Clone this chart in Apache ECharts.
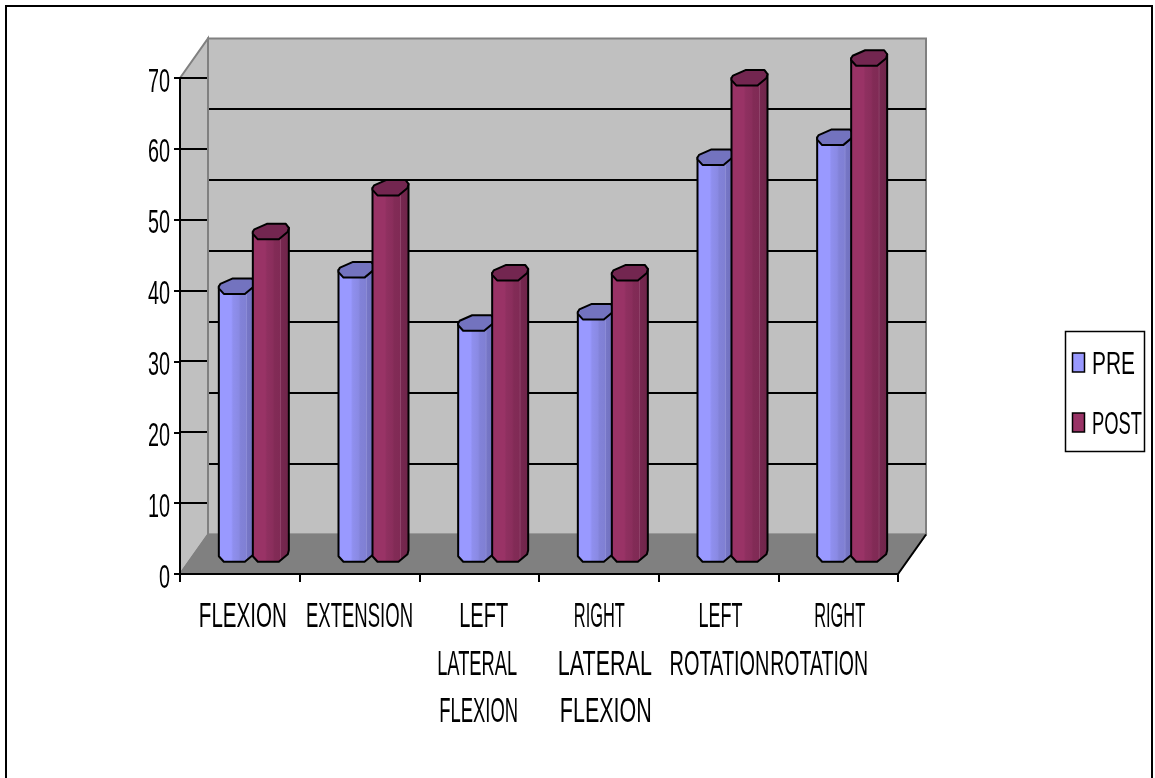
<!DOCTYPE html>
<html>
<head>
<meta charset="utf-8">
<style>html,body{margin:0;padding:0;background:#fff}#chart{width:1155px;height:778px}</style>
<script src="https://cdn.jsdelivr.net/npm/echarts@6/dist/echarts.min.js"></script>
</head>
<body>
<div id="chart"></div>
<script>
// Range of motion before and after treatment
const categories = ['FLEXION', 'EXTENSION', 'LEFT\nLATERAL\nFLEXION', 'RIGHT\nLATERAL\nFLEXION', 'LEFT\nROTATION', 'RIGHT\nROTATION'];
const preValues = [37.8, 40.1, 32.6, 34.2, 56, 58.8];
const postValues = [45.5, 51.7, 39.7, 39.7, 67.2, 70];
const yTicks = [0, 10, 20, 30, 40, 50, 60, 70];
const seriesNames = ['PRE', 'POST'];

// Oblique projection of the 3D box: how far the back wall sits from the front plane
const DEPTH_X = 28;
const DEPTH_Y = 39.5;
const CLUSTER_SHIFT = 17;
const LABEL_FONT = '35px "Liberation Sans", Arial, sans-serif';
const TICK_FONT = '33px "Liberation Sans", Arial, sans-serif';
const LEGEND_FONT = '32px "Liberation Sans", Arial, sans-serif';
const PRE_COLOR = '#9999ff';
const POST_COLOR = '#993366';

// Per-line label placement under each category: [shift from band centre, drawn width]
const LABEL_LAYOUT = [
  [[3, 88]],
  [[0, 107]],
  [[4.5, 49], [-2, 80], [-0.5, 79]],
  [[0.5, 51], [6, 94], [7, 92]],
  [[2, 44], [1, 100]],
  [[1.5, 51], [-19, 98]]
];
const LEGEND_LAYOUT = [{swatchY: 353, textY: 365, width: 43}, {swatchY: 413, textY: 425, width: 50}];

// Low-poly cylinder outline, as offsets from the centre of the end cap
const CAP = [[-18, 0], [-16.5, -2.5], [-4, -8], [15, -8], [18, -4], [17, 0], [8, 7.5], [-13, 7.5], [-18, 2]];

const ruler = document.createElement('canvas').getContext('2d');
function squeeze(text, font, width) {
  ruler.font = font;
  return width / ruler.measureText(text).width;
}

function facetFill(stops) {
  return new echarts.graphic.LinearGradient(0, 0, 1, 0, stops.map(s => ({offset: s[0], color: s[1]})));
}
const PRE_BODY = facetFill([[0, '#9999ff'], [0.35, '#9999ff'], [0.4, '#8f8fee'], [0.55, '#8a8ae4'], [0.6, '#8282d8'], [0.74, '#8080d4'], [0.76, '#9090d8'], [0.78, '#7676c6'], [1, '#7070bc']]);
const POST_BODY = facetFill([[0, '#993366'], [0.35, '#993366'], [0.4, '#8f3060'], [0.55, '#8a2e5c'], [0.6, '#822b56'], [0.74, '#802a55'], [0.76, '#944a70'], [0.78, '#76274f'], [1, '#6e2549']]);

function barRenderer(shift, bodyFill, capFill) {
  return function (params, api) {
    const top = api.coord([api.value(0), api.value(1)]);
    const base = api.coord([api.value(0), 0]);
    const cx = top[0] + DEPTH_X / 2 + shift;
    const topY = top[1] - DEPTH_Y / 2;
    const baseY = base[1] - DEPTH_Y / 2;
    const at = (p, y) => [cx + p[0], y + p[1]];
    const body = [at(CAP[0], topY), at(CAP[4], topY)]
      .concat(CAP.slice(4).map(p => at(p, baseY)))
      .concat([at(CAP[0], baseY)]);
    const line = {stroke: '#000', lineWidth: 2, lineJoin: 'round'};
    return {
      type: 'group',
      children: [
        {type: 'polygon', shape: {points: body}, style: Object.assign({fill: bodyFill}, line)},
        {type: 'polygon', shape: {points: CAP.map(p => at(p, topY))}, style: Object.assign({fill: capFill}, line)}
      ]
    };
  };
}

// Walls, floor and the gridlines printed on them
function boxRenderer(params, api) {
  const g = params.coordSys;
  const left = g.x, right = g.x + g.width, topY = g.y, bottom = g.y + g.height;
  const wall = {fill: '#c0c0c0', stroke: '#808080', lineWidth: 2};
  const grid = {stroke: '#000', lineWidth: 2};
  const children = [
    {type: 'polygon', shape: {points: [[left, topY], [left + DEPTH_X, topY - DEPTH_Y], [left + DEPTH_X, bottom - DEPTH_Y], [left, bottom]]}, style: wall},
    {type: 'polygon', shape: {points: [[left + DEPTH_X, topY - DEPTH_Y], [right + DEPTH_X, topY - DEPTH_Y], [right + DEPTH_X, bottom - DEPTH_Y], [left + DEPTH_X, bottom - DEPTH_Y]]}, style: wall},
    {type: 'polygon', shape: {points: [[left, bottom], [left + DEPTH_X, bottom - DEPTH_Y], [right + DEPTH_X, bottom - DEPTH_Y], [right, bottom]]}, style: {fill: '#808080', stroke: '#808080', lineWidth: 1.5}},
    {type: 'line', shape: {x1: right, y1: bottom, x2: right + DEPTH_X, y2: bottom - DEPTH_Y}, style: {stroke: '#000', lineWidth: 2}}
  ];
  yTicks.forEach(t => {
    const exactY = api.coord([0, t])[1];
    const y = Math.round(exactY);
    children.push({type: 'line', shape: {x1: left, y1: y, x2: left + DEPTH_X - 1, y2: y}, style: grid});
    if (t > 0 && t < yTicks[yTicks.length - 1]) {
      const backY = Math.round(exactY - DEPTH_Y);
      children.push({type: 'line', shape: {x1: left + DEPTH_X + 1, y1: backY, x2: right + DEPTH_X, y2: backY}, style: grid});
    }
  });
  return {type: 'group', children};
}

// Condensed axis text: tall letters squeezed horizontally
function categoryLabelRenderer(params, api) {
  const idx = api.value(0);
  const x = api.coord([idx, 0])[0];
  const lines = categories[idx].split('\n');
  return {
    type: 'group',
    children: lines.map((text, i) => ({
      type: 'text',
      x: x + LABEL_LAYOUT[idx][i][0],
      y: 617.5 + i * 47.5,
      scaleX: squeeze(text, LABEL_FONT, LABEL_LAYOUT[idx][i][1]),
      style: {text, font: LABEL_FONT, fill: '#000', textAlign: 'center', textVerticalAlign: 'middle'}
    }))
  };
}
function valueLabelRenderer(params, api) {
  const p = api.coord([0, api.value(0)]);
  return {
    type: 'text',
    x: params.coordSys.x - 10,
    y: p[1] + 4.5,
    scaleX: 0.6,
    style: {text: String(api.value(0)), font: TICK_FONT, fill: '#000', textAlign: 'right', textVerticalAlign: 'middle'}
  };
}

// Legend box with squeezed captions
const legendElements = [
  {type: 'rect', shape: {x: 1065.5, y: 331.5, width: 79, height: 120}, style: {fill: '#fff', stroke: '#000', lineWidth: 1.5}, silent: true}
];
seriesNames.forEach((name, i) => {
  const row = LEGEND_LAYOUT[i];
  legendElements.push({type: 'rect', shape: {x: 1072.5, y: row.swatchY, width: 12, height: 19}, style: {fill: i === 0 ? PRE_COLOR : POST_COLOR, stroke: '#000', lineWidth: 1.5}, silent: true});
  legendElements.push({type: 'text', x: 1092, y: row.textY, scaleX: squeeze(name, LEGEND_FONT, row.width), style: {text: name, font: LEGEND_FONT, fill: '#000', textAlign: 'left', textVerticalAlign: 'middle'}, silent: true});
});

const chart = echarts.init(document.getElementById('chart'), null, {renderer: 'canvas'});
chart.setOption({
  animation: false,
  backgroundColor: '#fff',
  graphic: [{type: 'rect', shape: {x: 6, y: 6, width: 1146, height: 790}, style: {fill: 'none', stroke: '#000', lineWidth: 2}, silent: true}].concat(legendElements),
  grid: {left: 180, top: 78, width: 718, height: 496, containLabel: false},
  xAxis: {
    type: 'category',
    data: categories,
    z: 10,
    axisLine: {lineStyle: {color: '#000', width: 2}},
    axisTick: {show: true, interval: 0, alignWithLabel: false, length: 8, lineStyle: {color: '#000', width: 2}},
    axisLabel: {show: false}
  },
  yAxis: {
    type: 'value',
    min: 0,
    max: 70,
    interval: 10,
    z: 10,
    splitLine: {show: false},
    axisLine: {show: true, lineStyle: {color: '#000', width: 2}},
    axisTick: {show: true, length: 6, lineStyle: {color: '#000', width: 2}},
    axisLabel: {show: false}
  },
  series: [
    {type: 'custom', name: 'box', silent: true, z: 1, clip: false, data: [[0, 0]], renderItem: boxRenderer},
    {type: 'custom', name: seriesNames[0], z: 3, clip: false, itemStyle: {color: PRE_COLOR},
      data: preValues.map((v, i) => [i, v]), renderItem: barRenderer(-CLUSTER_SHIFT, PRE_BODY, '#7373bf')},
    {type: 'custom', name: seriesNames[1], z: 4, clip: false, itemStyle: {color: POST_COLOR},
      data: postValues.map((v, i) => [i, v]), renderItem: barRenderer(CLUSTER_SHIFT, POST_BODY, '#732650')},
    {type: 'custom', name: 'categoryText', silent: true, z: 5, clip: false,
      data: categories.map((c, i) => [i, 0]), renderItem: categoryLabelRenderer},
    {type: 'custom', name: 'valueText', silent: true, z: 5, clip: false,
      data: yTicks.map(t => [t]), encode: {y: 0}, renderItem: valueLabelRenderer}
  ]
});
</script>
</body>
</html>
